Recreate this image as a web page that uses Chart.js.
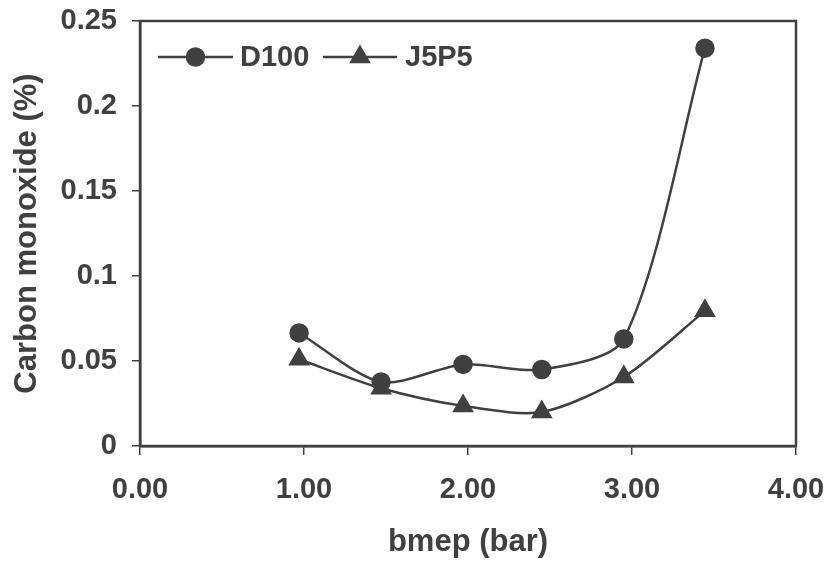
<!DOCTYPE html>
<html>
<head>
<meta charset="utf-8">
<script src="https://cdn.jsdelivr.net/npm/chart.js@4/dist/chart.umd.min.js"></script>
<style>
  html, body { margin: 0; padding: 0; background: #fff; }
  #wrap { width: 830px; height: 566px; }
</style>
</head>
<body>
<div id="wrap"><canvas id="myChart" width="830" height="566"></canvas></div>
<script>
const bmep = [0.97, 1.47, 1.97, 2.45, 2.95, 3.445];
const d100 = [0.0665, 0.0377, 0.048, 0.045, 0.063, 0.234];
const j5p5 = [0.051, 0.034, 0.0236, 0.020, 0.0406, 0.0795];
const xTicks = ['0.00', '1.00', '2.00', '3.00', '4.00'];
const yTicks = ['0', '0.05', '0.1', '0.15', '0.2', '0.25'];

const ink = '#404040';
const font = { family: '"Liberation Sans", Arial, sans-serif', weight: 'bold', size: 29 };
const titleFont = { family: '"Liberation Sans", Arial, sans-serif', weight: 'bold', size: 31 };

function toPoints(xs, ys) {
  return xs.map((x, i) => ({ x: x, y: ys[i] }));
}

// frame round the plot area + legend drawn inside it
const framePlugin = {
  id: 'frame',
  afterDraw(chart) {
    const ctx = chart.ctx;
    const a = chart.chartArea;
    ctx.save();
    ctx.strokeStyle = ink;
    ctx.lineWidth = 2.5;
    ctx.strokeRect(a.left, a.top, a.right - a.left, a.bottom - a.top);

    const items = [
      { ds: 0, x0: 158, x1: 233, tx: 240, label: 'D100' },
      { ds: 1, x0: 323, x1: 397, tx: 405, label: 'J5P5' }
    ];
    const ly = 57;
    items.forEach(it => {
      const ds = chart.data.datasets[it.ds];
      ctx.strokeStyle = ds.borderColor;
      ctx.lineWidth = ds.borderWidth;
      ctx.beginPath();
      ctx.moveTo(it.x0, ly);
      ctx.lineTo(it.x1, ly);
      ctx.stroke();
      ctx.fillStyle = ink;
      Chart.helpers.drawPoint(ctx, {
        pointStyle: ds.pointStyle, radius: ds.pointRadius, borderWidth: 1
      }, (it.x0 + it.x1) / 2, ly);
      ctx.font = 'bold 29px "Liberation Sans", Arial, sans-serif';
      ctx.textBaseline = 'middle';
      ctx.textAlign = 'left';
      ctx.fillText(it.label, it.tx, ly + 1);
    });
    ctx.restore();
  }
};

const ctx = document.getElementById('myChart').getContext('2d');
const chart = new Chart(ctx, {
  type: 'line',
  data: {
    datasets: [
      {
        label: 'D100',
        data: toPoints(bmep, d100),
        borderColor: ink,
        backgroundColor: ink,
        borderWidth: 2.5,
        pointStyle: 'circle',
        pointRadius: 8.5,
        tension: 0.28
      },
      {
        label: 'J5P5',
        data: toPoints(bmep, j5p5),
        borderColor: ink,
        backgroundColor: ink,
        borderWidth: 2.5,
        pointStyle: 'triangle',
        pointRadius: 10,
        tension: 0.28
      }
    ]
  },
  options: {
    responsive: false,
    animation: false,
    layout: { padding: { top: 21, right: 34, left: 0, bottom: 0 } },
    plugins: {
      legend: { display: false },
      tooltip: { enabled: false }
    },
    scales: {
      x: {
        type: 'linear',
        min: 0,
        max: 4,
        afterFit: (scale) => {
          scale.height = 120;
          scale.paddingLeft = 0;
          scale.paddingRight = 0;
        },
        afterBuildTicks: (scale) => {
          scale.ticks = xTicks.map(t => ({ value: parseFloat(t) }));
        },
        ticks: {
          color: ink,
          font: font,
          padding: 18,
          maxRotation: 0,
          callback: (v, i) => xTicks[i]
        },
        grid: {
          drawOnChartArea: false,
          drawTicks: true,
          tickLength: 9,
          color: ink,
          lineWidth: 1.5
        },
        border: { color: ink, width: 2.5 },
        title: {
          display: true,
          text: 'bmep (bar)',
          color: ink,
          font: titleFont,
          padding: { top: 0, bottom: 5 }
        }
      },
      y: {
        type: 'linear',
        min: 0,
        max: 0.25,
        afterFit: (scale) => {
          scale.width = 140;
          scale.paddingTop = 0;
          scale.paddingBottom = 0;
        },
        afterBuildTicks: (scale) => {
          scale.ticks = yTicks.map(t => ({ value: parseFloat(t) }));
        },
        ticks: {
          color: ink,
          font: font,
          padding: 15,
          callback: (v, i) => yTicks[i]
        },
        grid: {
          drawOnChartArea: false,
          drawTicks: true,
          tickLength: 8,
          color: ink,
          lineWidth: 1.5
        },
        border: { color: ink, width: 2.5 },
        title: {
          display: true,
          text: 'Carbon monoxide (%)',
          color: ink,
          font: titleFont,
          padding: { top: 9, bottom: 0 }
        }
      }
    }
  },
  plugins: [framePlugin]
});
</script>
</body>
</html>
